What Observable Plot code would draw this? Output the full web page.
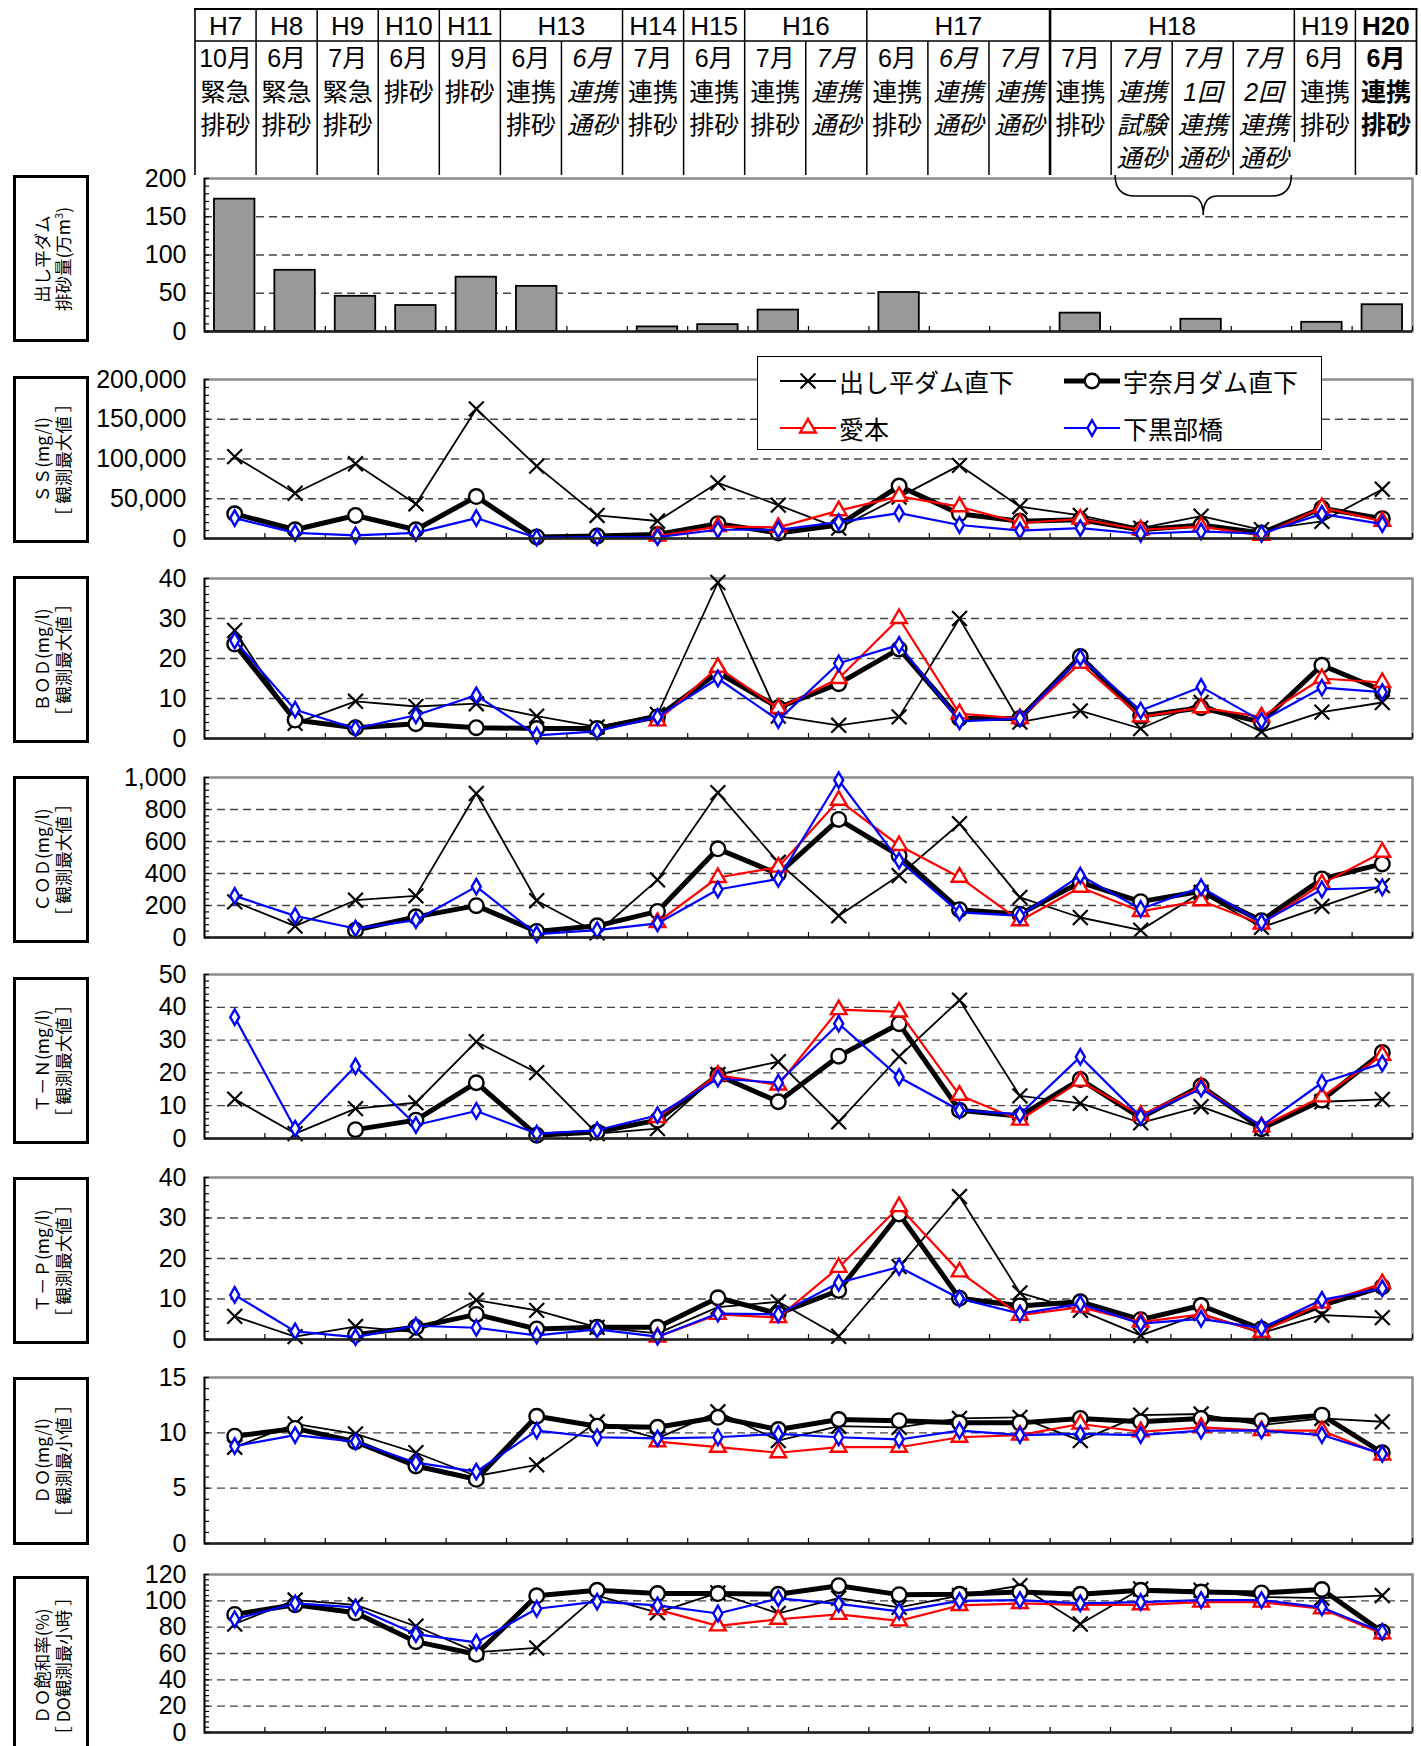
<!DOCTYPE html>
<html><head><meta charset="utf-8">
<script src="https://cdn.jsdelivr.net/npm/d3@7"></script>
<script src="https://cdn.jsdelivr.net/npm/@observablehq/plot@0.6"></script>
<style>
body{margin:0;background:#fff;}
#root{position:relative;width:1421px;height:1746px;overflow:hidden;font-family:"Liberation Sans",Arial,sans-serif;background:#fff;}
.pnl{position:absolute;left:0;}
.lab{position:absolute;left:13px;width:76px;border:3.5px solid #000;box-sizing:border-box;background:#fff;}
.lab .rot{position:absolute;left:52%;top:50%;transform:translate(-50%,-50%) rotate(-90deg);white-space:nowrap;text-align:center;font-family:"Noto Sans CJK JP",sans-serif;font-size:17.5px;line-height:21px;color:#000;}
.lab sup{font-size:11px;line-height:0;}
#legend{position:absolute;left:757px;top:356px;width:565px;height:94px;border:1.5px solid #000;box-sizing:border-box;background:#fff;z-index:5;}
#legend .it{position:absolute;font-family:"Noto Sans CJK JP",sans-serif;font-size:25px;line-height:30px;white-space:nowrap;color:#000;}
#legend svg{position:absolute;}
</style></head>
<body><div id="root"></div>
<script>
// ---------------- data ----------------
const eraLabels = ["H7","H8","H9","H10","H11","H13","H14","H15","H16","H17","H18","H19","H20"];
const eraSpans  = [1,1,1,1,1,2,1,1,2,3,4,1,1];
const eventLabels = [
  ["10月","緊急","排砂"],["6月","緊急","排砂"],["7月","緊急","排砂"],["6月","排砂"],["9月","排砂"],
  ["6月","連携","排砂"],["6月","連携","通砂"],["7月","連携","排砂"],["6月","連携","排砂"],
  ["7月","連携","排砂"],["7月","連携","通砂"],["6月","連携","排砂"],["6月","連携","通砂"],["7月","連携","通砂"],
  ["7月","連携","排砂"],["7月","連携","試験","通砂"],["7月","1回","連携","通砂"],["7月","2回","連携","通砂"],
  ["6月","連携","排砂"],["6月","連携","排砂"]
];
const italicCols = [6,10,12,13,15,16,17];
const boldCols = [19];
const seriesNames = ["出し平ダム直下","宇奈月ダム直下","愛本","下黒部橋"];

const sedimentVolume = [173,80,46,34,71,59,null,6,9,28,null,51,null,null,24,null,16,null,12,35];

const ssDashi  = [103000,57000,94000,43500,163000,91000,29000,22000,70000,42000,13000,52000,92000,40000,29000,13000,28000,11000,21500,62000];
const ssUna    = [31000,11000,29000,11000,52700,2000,3000,5000,18700,7000,17000,66000,31000,21600,23600,11000,17000,7000,38000,25000];
const ssAimoto = [null,null,null,null,null,null,null,3000,15000,14000,35000,53000,40000,19500,24500,11000,15000,4000,39000,21600];
const ssShimo  = [25700,7000,4000,7000,25700,1000,1700,1700,11000,11000,20700,32000,17000,10000,13000,6000,9000,6000,31000,18000];

const bodDashi  = [27,3.8,9.3,8,8.7,5.6,2.9,6,39,5.6,3.3,5.4,30,4.1,6.9,2.5,9,1.7,6.6,9];
const bodUna    = [23.6,4.6,2.7,3.7,2.7,2.5,2.5,5.4,16.5,7.7,13.7,22.4,5,5,20.5,5.6,7.7,4.1,18.3,12];
const bodAimoto = [null,null,null,null,null,null,null,4.4,17.8,7.5,15,30,6.2,5,18.8,5.4,7.7,5.4,15,14];
const bodShimo  = [24.5,7.2,2.5,5.8,10.8,0.8,1.8,5.4,15,4.6,18.8,23.4,4.3,5,20.2,7,12.9,4.4,12.7,11.6];

const codDashi  = [223,71,233,260,900,230,30,360,905,470,136,387,711,251,125,46,282,63,195,324];
const codUna    = [null,null,46,129,199,38,73,163,554,397,738,512,174,146,345,224,289,105,366,460];
const codAimoto = [null,null,null,null,null,null,null,94,375,440,858,575,377,105,314,163,230,84,335,533];
const codShimo  = [260,135,56,108,318,21,46,88,300,366,983,481,157,136,387,178,314,94,300,314];

const tnDashi  = [12,1.5,9.1,10.9,29.5,20.1,1.5,3,19.5,23.4,5.1,25,42.2,13,10.7,4.8,9.7,3,11.2,11.9];
const tnUna    = [null,null,2.7,5.6,17,1,2,5.6,19.3,11.2,25.1,35,8.6,6.8,18,6.3,16,3,11.7,26.2];
const tnAimoto = [null,null,null,null,null,null,null,6.4,19.3,16.3,39.3,38.6,13.2,5.6,17.5,7.1,15.7,3.6,12.7,25.4];
const tnShimo  = [37,3,22,4.1,8.4,1.5,2.5,7.1,18.3,17,35,18.7,8.6,7.4,24.9,6.6,15.2,3.8,17,22.9];

const tpDashi  = [5.7,0.7,3.2,1.8,9.7,7.2,3,1.5,8,9.3,0.8,18,35.3,11.5,7.2,1,6.4,1.6,6,5.4];
const tpUna    = [null,null,1.2,3,6.2,2.6,3,3,10.3,6.4,12.1,31,10.2,8.3,9.3,4.9,8.4,2.6,8.4,13];
const tpAimoto = [null,null,null,null,null,null,null,0.6,6.2,5.4,17.8,32.8,16.7,6,8,4.3,6.2,1.8,9,13.8];
const tpShimo  = [11,2,0.6,3.4,2.9,1,2.5,0.7,6.4,6.2,14,17.9,10.1,6.4,8.8,3.9,5.1,2.8,9.8,12.6];

const doDashi  = [8.7,10.8,9.9,8.2,6.1,7.1,11,9.5,11.9,9.3,10.6,10.5,11.3,11.4,9.3,11.6,11.7,10.7,11.3,11];
const doUna    = [9.7,10.4,9.2,7.0,5.8,11.5,10.6,10.5,11.4,10.3,11.2,11.1,10.9,10.9,11.3,11,11.3,11.1,11.6,8.2];
const doAimoto = [null,null,null,null,null,null,null,9.2,8.7,8.2,8.7,8.7,9.6,9.8,10.8,10.1,10.5,10.2,10.2,8];
const doShimo  = [8.8,9.8,9.2,7.3,6.5,10.2,9.6,9.5,9.6,9.9,9.6,9.4,10.2,9.8,9.9,9.8,10.2,10.2,9.8,8.1];

const satDashi  = [82.4,100.6,97,80.7,61,64.2,104,91,106,90.4,102,95,104,111.5,82.4,109,108,103,102,104];
const satUna    = [89.7,97,91,69,59.4,103.8,108,105.5,105.5,105,111.5,104.7,105,106.7,105,108,106.7,106,108.6,76.4];
const satAimoto = [null,null,null,null,null,null,null,93.3,81,86,89.7,84.8,96.5,98,97,97,99,99,94,75];
const satShimo  = [86,98,95,74.7,68.4,94,99.4,96.5,90.4,101.8,97.7,92,100,100.6,98,99,100.6,100.6,95,76.4];

// ---------------- layout ----------------
const root = document.getElementById("root");
const W = 1421, ML = 204, MR = 9, PW = W - ML - MR;
const N = eventLabels.length;
const idx = d3.range(N);

const seriesStyles = [
  {line:{stroke:"#000", strokeWidth:1.8}, dot:{symbol:"times", r:6.8, stroke:"#000", fill:"none", strokeWidth:2.2}},
  {line:{stroke:"#000", strokeWidth:5}, dot:{symbol:"circle", r:7.3, stroke:"#000", fill:"#fff", strokeWidth:2.4}},
  {line:{stroke:"#ff0000", strokeWidth:2.2}, dot:{symbol:"triangle", r:5.8, stroke:"#ff0000", fill:"#fff", strokeWidth:2.4}},
  {line:{stroke:"#0000ff", strokeWidth:2.2}, dot:{symbol:"diamond", r:4.7, stroke:"#0000ff", fill:"#fff", strokeWidth:2.4}}
];

function makePanel(cfg) {
  const mt = 16, mb = 16;
  const ph = cfg.bottom - cfg.top;
  const [y0, y1] = cfg.domain;
  const major = d3.range(y0, y1 + cfg.step / 2, cfg.step);
  const minor = d3.range(y0, y1 + cfg.minor / 2, cfg.minor);
  const grid = major.filter(v => v > y0 && v < y1);
  const bounds = d3.range(0.5, N, 1);
  const marks = [
    Plot.ruleY(grid, {stroke:"#444", strokeWidth:1.3, strokeDasharray:"8,5"}),
    Plot.frame({stroke:"#8c8c8c", strokeWidth:2.5})
  ];
  if (cfg.bars) {
    const bd = idx.filter(i => cfg.bars[i] != null);
    marks.push(Plot.rect(bd, {x1: i => i - 0.335, x2: i => i + 0.335, y1: 0, y2: i => cfg.bars[i], fill:"#999", stroke:"#000", strokeWidth:1.8}));
  }
  if (cfg.series) {
    cfg.series.forEach((arr, s) => {
      const st = seriesStyles[s];
      marks.push(Plot.line(idx, {x: i => i, y: i => arr[i], ...st.line, strokeLinejoin:"round"}));
      marks.push(Plot.dot(idx.filter(i => arr[i] != null), {x: i => i, y: i => arr[i], ...st.dot}));
    });
  }
  marks.push(
    Plot.ruleX([-0.5], {stroke:"#000", strokeWidth:1.6}),
    Plot.ruleY([y0], {stroke:"#222", strokeWidth:2.5}),
    Plot.tickY(minor, {y: d => d, insetRight: PW - 5, stroke:"#000", strokeWidth:1.2}),
    Plot.tickX(bounds, {x: d => d, insetTop: ph - 5, stroke:"#000", strokeWidth:1.2}),
    Plot.axisY(major, {tickSize:0, tickPadding:18, fontSize:25, tickFormat: d3.format(","), fill:"#000"})
  );
  const svg = Plot.plot({
    width: W, height: ph + mt + mb,
    marginLeft: ML, marginRight: MR, marginTop: mt, marginBottom: mb,
    x: {domain: [-0.5, N - 0.5], axis: null},
    y: {domain: cfg.domain, axis: null},
    style: {fontFamily: "Liberation Sans, Arial, sans-serif", color: "#000", background: "transparent", overflow: "visible"},
    marks
  });
  const wrap = document.createElement("div");
  wrap.className = "pnl";
  wrap.style.top = (cfg.top - mt) + "px";
  wrap.appendChild(svg);
  root.appendChild(wrap);

  const lab = document.createElement("div");
  lab.className = "lab";
  lab.style.top = cfg.box[0] + "px";
  lab.style.height = cfg.box[1] + "px";
  lab.innerHTML = `<div class="rot">${cfg.label[0]}<br>${cfg.label[1]}</div>`;
  root.appendChild(lab);
}

const maxLab = "［ 観測最大値 ］";
const panels = [
  {top:178, bottom:331, domain:[0,200], step:50, minor:10, bars: sedimentVolume, box:[175,167], label:["出し平ダム","排砂量(万m<sup>3</sup>)"]},
  {top:379, bottom:538, domain:[0,200000], step:50000, minor:10000, series:[ssDashi,ssUna,ssAimoto,ssShimo], box:[376,167], label:["ＳＳ(mg/l)", maxLab]},
  {top:578, bottom:738, domain:[0,40], step:10, minor:2, series:[bodDashi,bodUna,bodAimoto,bodShimo], box:[576,167], label:["ＢＯＤ(mg/l)", maxLab]},
  {top:777, bottom:937, domain:[0,1000], step:200, minor:40, series:[codDashi,codUna,codAimoto,codShimo], box:[776,167], label:["ＣＯＤ(mg/l)", maxLab]},
  {top:974, bottom:1138, domain:[0,50], step:10, minor:2, series:[tnDashi,tnUna,tnAimoto,tnShimo], box:[977,167], label:["Ｔ－Ｎ(mg/l)", maxLab]},
  {top:1177, bottom:1339, domain:[0,40], step:10, minor:2, series:[tpDashi,tpUna,tpAimoto,tpShimo], box:[1177,167], label:["Ｔ－Ｐ(mg/l)", maxLab]},
  {top:1377, bottom:1543, domain:[0,15], step:5, minor:1, series:[doDashi,doUna,doAimoto,doShimo], box:[1377,168], label:["ＤＯ(mg/l)", "［ 観測最小値 ］"]},
  {top:1574, bottom:1732, domain:[0,120], step:20, minor:4, series:[satDashi,satUna,satAimoto,satShimo], box:[1576,180], label:["ＤＯ飽和率(%)", "［ DO観測最小時 ］"]}
];
panels.forEach(makePanel);

// ---------------- header table ----------------
const TL = 195, TR = 1416.5, TT = 9, R1 = 41, TB = 175;
const CW = (TR - TL) / N;
const hs = d3.select(root).append("svg")
  .attr("width", W).attr("height", 230)
  .style("position","absolute").style("left","0px").style("top","0px").style("z-index", 4).style("overflow","visible");
const lineG = hs.append("g").attr("stroke","#000").attr("fill","none");
lineG.append("line").attr("x1",TL-1).attr("x2",TR+1).attr("y1",TT).attr("y2",TT).attr("stroke-width",2.2);
lineG.append("line").attr("x1",TL).attr("x2",TR).attr("y1",R1).attr("y2",R1).attr("stroke-width",1.6);
lineG.append("line").attr("x1",TL).attr("x2",TL).attr("y1",TT).attr("y2",TB).attr("stroke-width",1.6);
lineG.append("line").attr("x1",TR).attr("x2",TR).attr("y1",TT).attr("y2",TB).attr("stroke-width",1.8);
const eraStarts = eraSpans.reduce((a, s, k) => (a.push(k ? a[k-1] + eraSpans[k-1] : 0), a), []);
eraStarts.slice(1).forEach(c => {
  lineG.append("line").attr("x1",TL+c*CW).attr("x2",TL+c*CW).attr("y1",TT).attr("y2",R1)
    .attr("stroke-width", c === 14 ? 2.6 : 1.5);
});
d3.range(1, N).forEach(c => {
  lineG.append("line").attr("x1",TL+c*CW).attr("x2",TL+c*CW).attr("y1",R1).attr("y2", c === 18 ? 142 : TB)
    .attr("stroke-width", c === 14 ? 2.6 : 1.5);
});
eraLabels.forEach((t, k) => {
  hs.append("text").attr("x", TL + (eraStarts[k] + eraSpans[k]/2) * CW).attr("y", 25.5)
    .attr("text-anchor","middle").attr("dominant-baseline","central")
    .attr("font-family","Liberation Sans, Arial, sans-serif").attr("font-size", 26)
    .attr("font-weight", k === eraLabels.length - 1 ? "bold" : null)
    .text(t);
});
const lineY = [58, 91.5, 125, 158];
eventLabels.forEach((lines, c) => {
  lines.forEach((t, j) => {
    hs.append("text").attr("x", TL + (c + 0.5) * CW).attr("y", lineY[j])
      .attr("text-anchor","middle").attr("dominant-baseline","central")
      .attr("font-family","Liberation Sans, Noto Sans CJK JP, sans-serif").attr("font-size", 25)
      .attr("font-style", italicCols.includes(c) ? "italic" : null)
      .attr("font-weight", boldCols.includes(c) ? "bold" : null)
      .text(t);
  });
});
const bx1 = TL + 15*CW + 4, bx2 = TL + 18*CW - 3, bm = (bx1 + bx2)/2, by0 = 175, by1 = 196, by2 = 215;
hs.append("path").attr("fill","none").attr("stroke","#000").attr("stroke-width",1.6)
  .attr("d", `M${bx1},${by0} Q${bx1},${by1} ${bx1+20},${by1} L${bm-14},${by1} Q${bm},${by1} ${bm},${by2} Q${bm},${by1} ${bm+14},${by1} L${bx2-20},${by1} Q${bx2},${by1} ${bx2},${by0}`);

// ---------------- legend ----------------
const legend = d3.select(root).append("div").attr("id","legend");
const legPos = [[22,24],[306,24],[22,70.5],[306,70.5]];
seriesNames.forEach((name, s) => {
  const st = seriesStyles[s];
  const [lx, ly] = legPos[s];
  const sv = legend.append("svg").attr("width",56).attr("height",30)
    .style("left", lx + "px").style("top", (ly - 15) + "px").style("overflow","visible");
  sv.append("line").attr("x1",0).attr("x2",56).attr("y1",15).attr("y2",15)
    .attr("stroke", st.line.stroke).attr("stroke-width", st.line.strokeWidth);
  const typ = {times: d3.symbolTimes, circle: d3.symbolCircle, triangle: d3.symbolTriangle, diamond: d3.symbolDiamond}[st.dot.symbol];
  sv.append("path").attr("transform","translate(28,15)")
    .attr("d", d3.symbol(typ, Math.PI * st.dot.r * st.dot.r)())
    .attr("fill", st.dot.fill).attr("stroke", st.dot.stroke).attr("stroke-width", st.dot.strokeWidth);
  legend.append("div").attr("class","it").style("left", (lx + 59) + "px").style("top", (ly - 15) + "px").text(name);
});
</script>
</body></html>
